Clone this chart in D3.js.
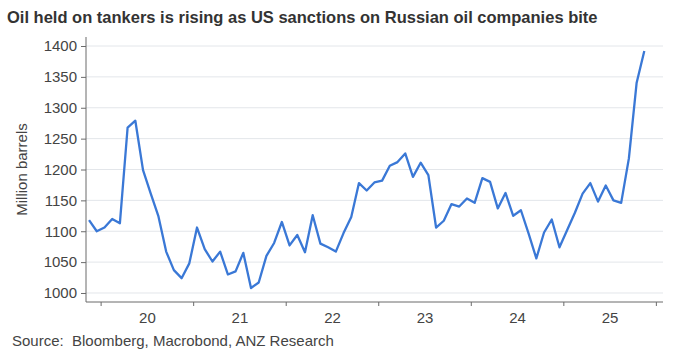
<!DOCTYPE html>
<html>
<head>
<meta charset="utf-8">
<script src="https://cdn.jsdelivr.net/npm/d3@7"></script>
<style>
  body { margin: 0; background: #fff; }
  svg text { font-family: "Liberation Sans", Arial, sans-serif; }
</style>
</head>
<body>
<svg id="chart" width="680" height="358"></svg>
<script>
// monthly data, Nov 2019 .. Nov 2025
var startMonth = "2019-11";
var oilOnTankers = [
  1118, 1100, 1106, 1120, 1113, 1268, 1279, 1199, 1161, 1124, 1067, 1037,
  1024, 1048, 1106, 1071, 1051, 1067, 1030, 1035, 1065, 1008, 1017, 1060,
  1081, 1115, 1077, 1094, 1066, 1126, 1080, 1074, 1067, 1097, 1123, 1178,
  1166, 1179, 1182, 1206, 1212, 1226, 1188, 1211, 1191, 1106, 1117, 1144,
  1140, 1153, 1146, 1186, 1180, 1137, 1162, 1125, 1134, 1096, 1056, 1098,
  1119, 1074, 1102, 1130, 1161, 1178, 1148, 1174, 1150, 1146, 1218, 1340,
  1392
];
var yTicks = [1000, 1050, 1100, 1150, 1200, 1250, 1300, 1350, 1400];
var yearTicks = [2020, 2021, 2022, 2023, 2024, 2025, 2026];
var yearLabels = ["20", "21", "22", "23", "24", "25"];

var title = "Oil held on tankers is rising as US sanctions on Russian oil companies bite";
var yTitle = "Million barrels";
var source = "Source:  Bloomberg, Macrobond, ANZ Research";

var parseMonth = d3.timeParse("%Y-%m");
var start = parseMonth(startMonth);
// decimal year, point sits in the middle of its month
var data = oilOnTankers.map(function(v, i) {
    var d = d3.timeMonth.offset(start, i);
    return { t: d.getFullYear() + (d.getMonth() + 0.5) / 12, value: v };
});

var plotLeft = 86, plotRight = 663, plotTop = 37, plotBottom = 302;

var svg = d3.select("#chart");

var x = d3.scaleLinear()
    .domain([2019.842, 2026.077])
    .range([plotLeft, plotRight]);
var y = d3.scaleLinear()
    .domain([985.4, 1414.6])
    .range([plotBottom, plotTop]);

// gridlines
svg.append("g")
    .selectAll("line")
    .data(yTicks)
    .enter().append("line")
    .attr("x1", plotLeft)
    .attr("x2", plotRight)
    .attr("y1", function(d) { return y(d); })
    .attr("y2", function(d) { return y(d); })
    .style("stroke", "#e3e6ea")
    .style("stroke-width", 1);

// y axis
var yAxis = svg.append("g")
    .attr("transform", "translate(" + plotLeft + ",0)")
    .call(d3.axisLeft(y).tickValues(yTicks).tickFormat(d3.format("d"))
        .tickSize(5).tickPadding(4).tickSizeOuter(0));
yAxis.select(".domain").attr("d", "M0," + plotTop + "V" + plotBottom);

// x axis: ticks at year boundaries, labels mid-year
var xAxis = svg.append("g")
    .attr("transform", "translate(0," + plotBottom + ")")
    .call(d3.axisBottom(x).tickValues(yearTicks).tickSize(4).tickFormat("").tickSizeOuter(0));
xAxis.select(".domain").attr("d", "M" + plotLeft + ",0H" + plotRight);

svg.append("g")
    .attr("transform", "translate(0," + plotBottom + ")")
    .call(d3.axisBottom(x)
        .tickValues(yearTicks.slice(0, -1).map(function(d) { return d + 0.5; }))
        .tickSize(0).tickPadding(10)
        .tickFormat(function(d, i) { return yearLabels[i]; }))
    .select(".domain").remove();

svg.selectAll(".domain, .tick line")
    .style("stroke", "#6b6b6b");
svg.selectAll(".tick text")
    .style("font-size", "15px")
    .style("fill", "#444");

// the series
var line = d3.line()
    .x(function(d) { return x(d.t); })
    .y(function(d) { return y(d.value); });

svg.append("path")
    .datum(data)
    .attr("d", line)
    .style("fill", "none")
    .style("stroke", "#3a78d6")
    .style("stroke-width", 2.3)
    .style("stroke-linejoin", "round");

// texts
svg.append("text")
    .attr("x", 7)
    .attr("y", 23)
    .style("font-size", "16.5px")
    .style("font-weight", "bold")
    .style("fill", "#333")
    .text(title);

svg.append("text")
    .attr("transform", "translate(27," + ((plotTop + plotBottom) / 2) + ") rotate(-90)")
    .style("text-anchor", "middle")
    .style("font-size", "15px")
    .style("fill", "#444")
    .text(yTitle);

svg.append("text")
    .attr("x", 12)
    .attr("y", 346)
    .style("font-size", "15px")
    .style("fill", "#444")
    .attr("xml:space", "preserve")
    .text(source);
</script>
</body>
</html>
